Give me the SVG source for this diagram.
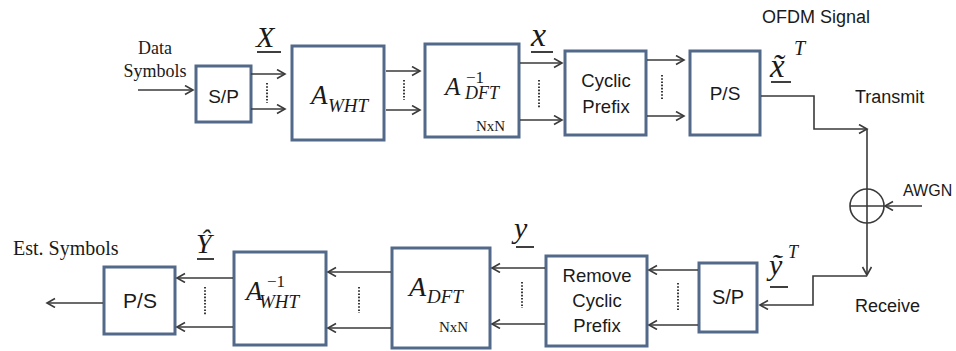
<svg xmlns="http://www.w3.org/2000/svg" width="956" height="351" viewBox="0 0 956 351">
<style>
.box{fill:#fff;stroke:#52698a;stroke-width:3}
.ln{fill:none;stroke:#3a3a3a;stroke-width:1.6}
.arr{fill:none;stroke:#3a3a3a;stroke-width:1.6;marker-end:url(#ah)}
.dots{stroke:#3a3a3a;stroke-width:2;stroke-dasharray:1.6 1.6}
.ul{stroke:#2a2a2a;stroke-width:1.8}
.sans{font-family:"Liberation Sans",Arial,sans-serif;fill:#1a1a1a}
.serif{font-family:"Liberation Serif","Times New Roman",serif;fill:#1a1a1a}
.it{font-family:"Liberation Serif","Times New Roman",serif;font-style:italic;fill:#1a1a1a}
.up{font-style:normal}
.mid{text-anchor:middle}
</style>
<defs>
<marker id="ah" markerWidth="12" markerHeight="12" refX="9" refY="5" orient="auto" markerUnits="userSpaceOnUse">
<path d="M1,0.5 L9,5 L1,9.5" fill="none" stroke="#3a3a3a" stroke-width="1.6"/>
</marker>
</defs>

<!-- labels outside nodes -->
<text class="serif mid" x="155" y="54" font-size="18">Data</text>
<text class="serif mid" x="155" y="77" font-size="18">Symbols</text>
<text class="sans" x="762" y="23" font-size="18">OFDM Signal</text>
<text class="sans" x="855" y="103" font-size="18">Transmit</text>
<text class="sans" x="903" y="196" font-size="16">AWGN</text>
<text class="sans" x="855" y="312" font-size="18">Receive</text>
<text class="serif" x="13" y="255" font-size="20">Est. Symbols</text>

<!-- math labels -->
<g id="lbl-X">
<text class="it" x="256" y="47" font-size="30">X</text>
<line class="ul" x1="257" y1="52" x2="281" y2="52"/>
</g>
<g id="lbl-x">
<text class="it" x="531" y="46" font-size="34">x</text>
<line class="ul" x1="531" y1="52" x2="553" y2="52"/>
</g>
<g id="lbl-xt">
<text class="it" x="770" y="77" font-size="33">x&#x303;<tspan x="794" y="55" font-size="20">T</tspan></text>
<line class="ul" x1="771" y1="82" x2="791" y2="82"/>
</g>
<g id="lbl-yt">
<text class="it" x="769" y="275" font-size="30">&#x1EF9;<tspan x="788" y="258" font-size="18">T</tspan></text>
<line class="ul" x1="770" y1="287" x2="788" y2="287"/>
</g>
<g id="lbl-y">
<text class="it" x="514" y="238" font-size="30">y</text>
<line class="ul" x1="516" y1="247" x2="534" y2="247"/>
</g>
<g id="lbl-Yhat">
<text class="it" x="196" y="253" font-size="28">&#x176;</text>
<line class="ul" x1="197" y1="259" x2="214" y2="259"/>
</g>

<!-- nodes: transmitter -->
<g id="sp1">
<rect class="box" x="196" y="66" width="55" height="56"/>
<text class="sans mid" x="223.5" y="103" font-size="19">S/P</text>
</g>
<g id="awht">
<rect class="box" x="292" y="46" width="92" height="94"/>
<text class="it" x="311" y="104" font-size="27">A<tspan x="328" y="112" font-size="19">WHT</tspan></text>
</g>
<g id="adft-inv">
<rect class="box" x="425" y="44" width="94" height="93"/>
<text class="it" x="445" y="95" font-size="25">A<tspan class="up" x="466" y="83" font-size="17">−1</tspan><tspan x="465" y="99" font-size="18">DFT</tspan></text>
<text class="serif" x="476" y="131" font-size="15">NxN</text>
</g>
<g id="cp">
<rect class="box" x="565" y="51" width="81" height="84"/>
<text class="sans mid" x="606" y="87" font-size="18.5">Cyclic</text>
<text class="sans mid" x="606" y="113" font-size="18.5">Prefix</text>
</g>
<g id="ps1">
<rect class="box" x="690" y="51" width="70" height="84"/>
<text class="sans mid" x="725" y="100" font-size="19">P/S</text>
</g>

<!-- adder -->
<g id="adder">
<circle cx="867" cy="206" r="17" fill="none" stroke="#3a3a3a" stroke-width="1.6"/>
<line class="ln" x1="850" y1="206" x2="884" y2="206"/>
<line class="ln" x1="867" y1="189" x2="867" y2="223"/>
</g>

<!-- nodes: receiver -->
<g id="sp2">
<rect class="box" x="699" y="263" width="58" height="69"/>
<text class="sans mid" x="728" y="304" font-size="20">S/P</text>
</g>
<g id="rcp">
<rect class="box" x="546" y="256" width="101" height="90"/>
<text class="sans mid" x="597" y="282" font-size="18.5">Remove</text>
<text class="sans mid" x="597" y="307" font-size="18.5">Cyclic</text>
<text class="sans mid" x="597" y="332" font-size="18.5">Prefix</text>
</g>
<g id="adft">
<rect class="box" x="392" y="248" width="98" height="100"/>
<text class="it" x="409" y="296" font-size="28">A<tspan x="427" y="303" font-size="19">DFT</tspan></text>
<text class="serif" x="439" y="332" font-size="15">NxN</text>
</g>
<g id="awht-inv">
<rect class="box" x="234" y="252" width="92" height="93"/>
<text class="it" x="246" y="300" font-size="27">A<tspan class="up" x="267" y="287" font-size="17">−1</tspan><tspan x="259" y="308" font-size="19">WHT</tspan></text>
</g>
<g id="ps2">
<rect class="box" x="104" y="267" width="71" height="67"/>
<text class="sans mid" x="140" y="308" font-size="21">P/S</text>
</g>

<!-- connectors -->
<g id="connectors">
<line class="arr" x1="138" y1="90" x2="193" y2="90"/>
<line class="arr" x1="251" y1="74" x2="285" y2="74"/>
<line class="arr" x1="251" y1="109" x2="285" y2="109"/>
<line class="dots" x1="267" y1="83" x2="267" y2="103"/>
<line class="arr" x1="386" y1="71" x2="420" y2="71"/>
<line class="arr" x1="386" y1="110" x2="420" y2="110"/>
<line class="dots" x1="404" y1="80" x2="404" y2="100"/>
<line class="arr" x1="520" y1="63" x2="562" y2="63"/>
<line class="arr" x1="520" y1="120" x2="562" y2="120"/>
<line class="dots" x1="539" y1="80" x2="539" y2="108"/>
<line class="arr" x1="647" y1="60" x2="684" y2="60"/>
<line class="arr" x1="647" y1="116" x2="684" y2="116"/>
<line class="dots" x1="662" y1="75" x2="662" y2="100"/>
<polyline class="arr" points="761,96 814,96 814,129 867,129"/>
<line class="ln" x1="867" y1="129" x2="867" y2="189"/>
<line class="arr" x1="922" y1="206" x2="885" y2="206"/>
<line class="arr" x1="867" y1="223" x2="867" y2="275"/>
<polyline class="arr" points="867,276 813,276 813,305 760,305"/>
<line class="arr" x1="698" y1="270" x2="649" y2="270"/>
<line class="arr" x1="698" y1="325" x2="649" y2="325"/>
<line class="dots" x1="678" y1="283" x2="678" y2="310"/>
<line class="arr" x1="545" y1="268" x2="492" y2="268"/>
<line class="arr" x1="545" y1="324" x2="492" y2="324"/>
<line class="dots" x1="522" y1="282" x2="522" y2="308"/>
<line class="arr" x1="391" y1="272" x2="328" y2="272"/>
<line class="arr" x1="391" y1="328" x2="328" y2="328"/>
<line class="dots" x1="359" y1="287" x2="359" y2="313"/>
<line class="arr" x1="233" y1="278" x2="177" y2="278"/>
<line class="arr" x1="233" y1="327" x2="177" y2="327"/>
<line class="dots" x1="205" y1="287" x2="205" y2="315"/>
<line class="arr" x1="103" y1="303" x2="47" y2="303"/>
</g>
</svg>
